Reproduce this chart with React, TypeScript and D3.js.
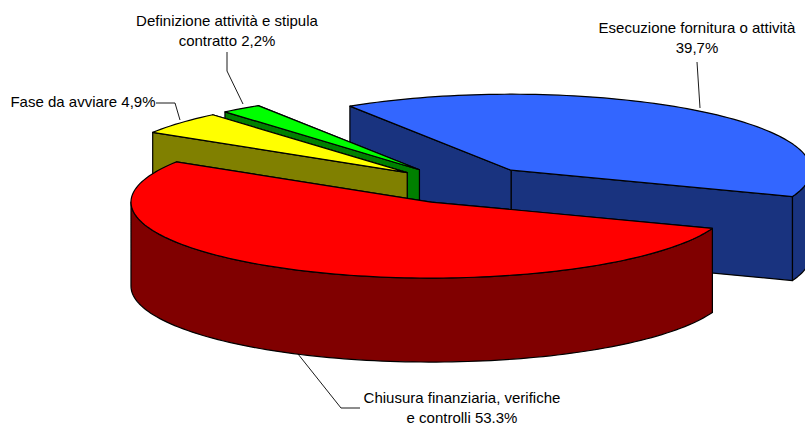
import React from "react";
import * as d3 from "d3";

const width = 805;
const height = 423;

// order clockwise from the blue slice
const categories = ["Esecuzione", "Chiusura", "Fase", "Definizione"];
const values = [39.7, 53.3, 4.9, 2.2];
const topColors = ["#3366ff", "#ff0000", "#ffff00", "#00ff00"];
const sideColors = ["#19337f", "#800000", "#808000", "#008000"];
const drawOrder = ["Esecuzione", "Definizione", "Fase", "Chiusura"];

const labelLines = [
  ["Esecuzione fornitura o attività", "39,7%"],
  ["Chiusura finanziaria, verifiche", "e controlli 53.3%"],
  ["Fase da avviare 4,9%"],
  ["Definizione attività e stipula", "contratto 2,2%"],
];
const labelX = [697, 462, 83, 227];
const labelY = [33, 403, 107, 26];
const leaders = [
  [[697, 62], [700, 108]],
  [[298, 354], [341, 408], [360, 408]],
  [[156, 103], [175, 103], [180, 120]],
  [[227, 52], [227, 71], [243, 104]],
];

const cx = 464;
const cy = 185;
const rx = 300;
const ry = 76;
const depth = 84;
const explode = 0.25;
const startDeg = -32.5;

const rad = (d: number) => (d * Math.PI) / 180;

const slices = d3
  .pie<number>()
  .sort(null)
  .value((d) => d)
  .startAngle(rad(startDeg))
  .endAngle(rad(startDeg + 360))(values);

const line = d3.line();

function rimPoints(a0: number, a1: number, ox: number, oy: number) {
  const n = Math.max(2, Math.ceil(Math.abs(a1 - a0) / rad(1.5)));
  const angle = d3.scaleLinear().domain([0, n]).range([a0, a1]);
  return d3.range(n + 1).map((i) => {
    const a = angle(i);
    return [ox + rx * Math.sin(a), oy - ry * Math.cos(a)] as [number, number];
  });
}

function Slice({ name }: { name: string }) {
  const i = categories.indexOf(name);
  const s = slices[i];
  const mid = (s.startAngle + s.endAngle) / 2;
  const ox = cx + explode * rx * Math.sin(mid);
  const oy = cy - explode * ry * Math.cos(mid);
  const rim = rimPoints(s.startAngle, s.endAngle, ox, oy);
  const apex: [number, number] = [ox, oy];
  const first = rim[0];
  const last = rim[rim.length - 1];
  const down = (p: [number, number]): [number, number] => [p[0], p[1] + depth];

  // only the front half of the rim shows a wall
  const wallFrom = Math.max(s.startAngle, Math.PI / 2);
  const wallTo = Math.min(s.endAngle, (3 * Math.PI) / 2);
  const wall = wallTo > wallFrom ? rimPoints(wallFrom, wallTo, ox, oy) : null;

  const side = sideColors[i];
  const stroke = { stroke: "#000", strokeWidth: 1.2, strokeLinejoin: "round" as const };
  return (
    <g>
      <path d={line([apex, last, down(last), down(apex)]) + "Z"} fill={side} {...stroke} />
      <path d={line([apex, first, down(first), down(apex)]) + "Z"} fill={side} {...stroke} />
      {wall && (
        <path
          d={line([...wall, ...wall.slice().reverse().map(down)]) + "Z"}
          fill={side}
          {...stroke}
        />
      )}
      <path d={line([apex, ...rim]) + "Z"} fill={topColors[i]} {...stroke} />
    </g>
  );
}

export default function App() {
  return (
    <svg
      width={width}
      height={height}
      style={{ position: "absolute", left: 0, top: 0, background: "#fff" }}
    >
      {drawOrder.map((name) => (
        <Slice key={name} name={name} />
      ))}
      {leaders.map((pts, i) => (
        <path
          key={i}
          d={line(pts as [number, number][]) as string}
          fill="none"
          stroke="#000"
          strokeWidth={0.9}
        />
      ))}
      {labelLines.map((lines, i) => (
        <text
          key={i}
          textAnchor="middle"
          fontFamily="'Liberation Sans', Arial, sans-serif"
          fontSize={15}
          fill="#000"
        >
          {lines.map((t, j) => (
            <tspan key={j} x={labelX[i]} y={labelY[i] + j * 19.5}>
              {t}
            </tspan>
          ))}
        </text>
      ))}
    </svg>
  );
}
